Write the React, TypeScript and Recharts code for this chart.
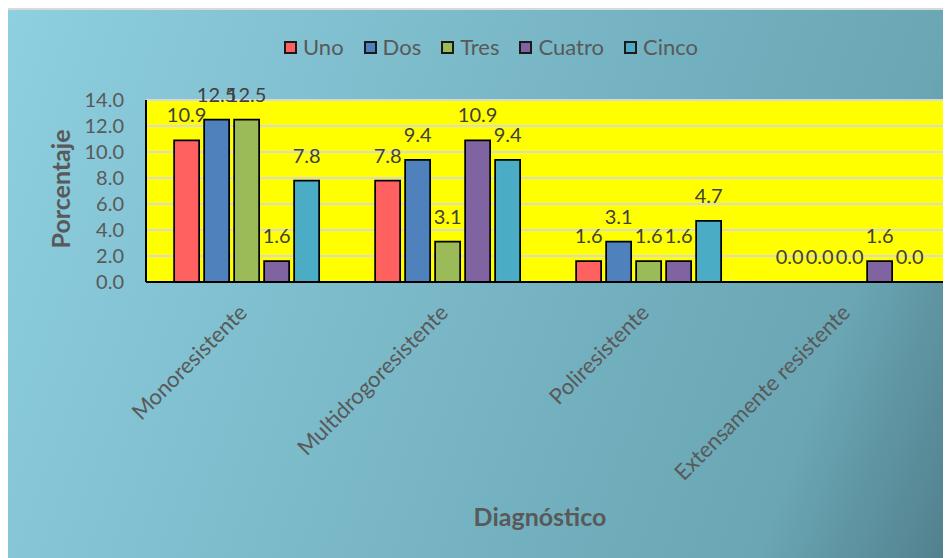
import { BarChart, Bar, XAxis, YAxis, CartesianGrid, LabelList, Label } from "recharts";

const categories = ["Monoresistente", "Multidrogoresistente", "Poliresistente", "Extensamente resistente"];
const seriesNames = ["Uno", "Dos", "Tres", "Cuatro", "Cinco"];
const seriesColors = ["#ff6161", "#4f81bd", "#9bbb59", "#8064a2", "#4bacc6"];

const uno = [10.9, 7.8, 1.6, 0.0];
const dos = [12.5, 9.4, 3.1, 0.0];
const tres = [12.5, 3.1, 1.6, 0.0];
const cuatro = [1.6, 10.9, 1.6, 1.6];
const cinco = [7.8, 9.4, 4.7, 0.0];

const yTicks = [0, 2, 4, 6, 8, 10, 12, 14];

const seriesValues = [uno, dos, tres, cuatro, cinco];

const data = categories.map((name, i) => {
  const row: Record<string, string | number> = { name };
  seriesNames.forEach((s, j) => {
    row[s] = seriesValues[j][i];
  });
  return row;
});

const font = "Lato, 'Open Sans', sans-serif";

const CategoryTick = (props: any) => {
  const { x, y, payload } = props;
  const tx = x + 2;
  const ty = y + 32;
  return (
    <text
      x={tx}
      y={ty}
      transform={`rotate(-45, ${tx}, ${ty})`}
      textAnchor="end"
      fill="#595959"
      fontSize={22}
      fontFamily={font}
    >
      {payload.value}
    </text>
  );
};

// keep zero bars in the rect list so their 0.0 labels get drawn
const keepZero = (value: any) => (Number(value) === 0 ? 0.01 : 0);

export default function App() {
  return (
    <div
      style={{
        position: "relative",
        marginLeft: -3,
        width: 944,
        height: 548,
        borderTop: "2px solid #d9d9d9",
        borderLeft: "2px solid #d9d9d9",
        background:
          "linear-gradient(110deg, #8ed0e0 0%, #86c6d6 17%, #6aa6b4 83%, #517f8c 100%)",
        fontFamily: font,
      }}
    >
      <div
        style={{
          position: "absolute",
          top: 26,
          left: 277,
          display: "flex",
          alignItems: "center",
          lineHeight: "22px",
          fontSize: 22,
          color: "#595959",
          whiteSpace: "nowrap",
        }}
      >
        {seriesNames.map((s, i) => (
          <div key={s} style={{ display: "flex", alignItems: "center", marginRight: 20 }}>
            <span
              style={{
                display: "inline-block",
                width: 9,
                height: 9,
                background: seriesColors[i],
                border: "2px solid #1a1a1a",
                marginRight: 6,
              }}
            />
            <span>{s}</span>
          </div>
        ))}
      </div>

      <BarChart
        width={944}
        height={548}
        data={data}
        margin={{ top: 90, right: 1, bottom: 0, left: 0 }}
        barCategoryGap="14%"
        barGap={5}
      >
        <CartesianGrid vertical={false} stroke="#d9d9d9" strokeWidth={2} fill="#ffff00" />
        <XAxis
          dataKey="name"
          height={276}
          interval={0}
          tick={<CategoryTick />}
          tickLine={false}
          tickSize={0}
          tickMargin={0}
          axisLine={{ stroke: "#000", strokeWidth: 2 }}
        >
          <Label
            content={(p: any) => {
              const vb = p.viewBox;
              return (
                <text
                  x={vb.x + vb.width / 2 - 8}
                  y={vb.y + 244}
                  textAnchor="middle"
                  fill="#595959"
                  fontSize={25}
                  fontWeight="bold"
                  fontFamily={font}
                >
                  Diagnóstico
                </text>
              );
            }}
          />
        </XAxis>
        <YAxis
          width={139}
          domain={[0, 14]}
          ticks={yTicks}
          interval={0}
          tickFormatter={(v: number) => v.toFixed(1)}
          tick={{ fill: "#595959", fontSize: 20, fontFamily: font }}
          tickLine={false}
          tickSize={0}
          tickMargin={22}
          axisLine={{ stroke: "#000", strokeWidth: 2 }}
        >
          <Label
            content={(p: any) => {
              const vb = p.viewBox;
              const cx = 53;
              const cy = vb.y + vb.height / 2 - 2;
              return (
                <text
                  x={cx}
                  y={cy}
                  transform={`rotate(-90, ${cx}, ${cy})`}
                  textAnchor="middle"
                  dominantBaseline="central"
                  fill="#595959"
                  fontSize={25}
                  fontWeight="bold"
                  fontFamily={font}
                >
                  Porcentaje
                </text>
              );
            }}
          />
        </YAxis>
        {seriesNames.map((s, i) => (
          <Bar
            key={s}
            dataKey={s}
            fill={seriesColors[i]}
            stroke="#000"
            strokeWidth={1.75}
            minPointSize={keepZero}
            isAnimationActive={false}
          >
            <LabelList
              dataKey={s}
              position="top"
              offset={18}
              formatter={(v: any) => Number(v).toFixed(1)}
              fill="#404040"
              fontSize={20}
              fontFamily={font}
            />
          </Bar>
        ))}
      </BarChart>
    </div>
  );
}
